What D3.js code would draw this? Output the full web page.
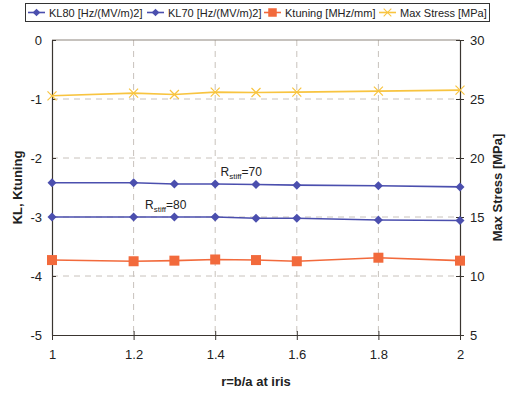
<!DOCTYPE html>
<html>
<head>
<meta charset="utf-8">
<script src="https://cdn.jsdelivr.net/npm/d3@7"></script>
<style>
  html, body { margin: 0; padding: 0; background: #fff; }
  svg { display: block; font-family: "Liberation Sans", Arial, sans-serif; }
</style>
</head>
<body>
<svg id="chart" width="508" height="394"></svg>
<script>
// Aperture ratio at the iris
const rValues = [1, 1.2, 1.3, 1.4, 1.5, 1.6, 1.8, 2];
// Loss factors for two stiffener radii [Hz/(MV/m)^2]
const kl80 = [-3.0, -3.0, -3.0, -3.0, -3.02, -3.02, -3.05, -3.06];
const kl70 = [-2.42, -2.42, -2.44, -2.44, -2.45, -2.46, -2.47, -2.49];
// Tuning sensitivity [MHz/mm]
const ktuning = [-3.73, -3.75, -3.74, -3.72, -3.73, -3.75, -3.69, -3.74];
// Peak stress [MPa]
const maxStress = [25.27, 25.5, 25.38, 25.58, 25.55, 25.58, 25.67, 25.75];

const xTicks = [1, 1.2, 1.4, 1.6, 1.8, 2];
const leftTicks = [0, -1, -2, -3, -4, -5];
const rightTicks = [30, 25, 20, 15, 10, 5];

const seriesNames = ["KL80 [Hz/(MV/m)2]", "KL70 [Hz/(MV/m)2]", "Ktuning [MHz/mm]", "Max Stress [MPa]"];

const svg = d3.select("#chart");
const L = 52, R = 460, T = 40, B = 335;

const x = d3.scaleLinear().domain([1, 2]).range([L, R]);
const yL = d3.scaleLinear().domain([-5, 0]).range([B, T]);
const yR = d3.scaleLinear().domain([5, 30]).range([B, T]);

const gridColor = "#c8c2bc";
const axisColor = "#3a3530";
const plain = d => String(d);

// Dashed grid
const grid = svg.append("g");
grid.selectAll("line.v").data(xTicks.slice(1, -1)).join("line")
  .attr("x1", d => x(d)).attr("x2", d => x(d))
  .attr("y1", T).attr("y2", B)
  .attr("stroke", gridColor).attr("stroke-width", 1).attr("stroke-dasharray", "6,5");
grid.selectAll("line.h").data(leftTicks.slice(1, -1)).join("line")
  .attr("x1", L).attr("x2", R)
  .attr("y1", d => yL(d)).attr("y2", d => yL(d))
  .attr("stroke", gridColor).attr("stroke-width", 1).attr("stroke-dasharray", "6,5");
// Top frame edge
svg.append("line").attr("x1", L).attr("x2", R).attr("y1", T).attr("y2", T)
  .attr("stroke", "#8d857d").attr("stroke-width", 1);

// Axes
function styleAxis(g) {
  g.select(".domain").attr("stroke", axisColor).attr("stroke-width", 1.2);
  g.selectAll(".tick line").attr("stroke", axisColor);
  g.selectAll(".tick text").attr("fill", "#222").style("font-size", "13px")
    .style("font-family", "'Liberation Sans', Arial, sans-serif");
}
const xAxis = svg.append("g").attr("transform", `translate(0,${B})`)
  .call(d3.axisBottom(x).tickValues(xTicks).tickFormat(plain).tickSize(5).tickSizeOuter(0).tickPadding(10));
xAxis.selectAll(".tick line").attr("y1", -4);
styleAxis(xAxis);

const leftAxis = svg.append("g").attr("transform", `translate(${L},0)`)
  .call(d3.axisLeft(yL).tickValues(leftTicks).tickFormat(plain).tickSize(4).tickSizeOuter(0).tickPadding(6));
leftAxis.selectAll(".tick line").attr("x2", 4);
styleAxis(leftAxis);

const rightAxis = svg.append("g").attr("transform", `translate(${R},0)`)
  .call(d3.axisRight(yR).tickValues(rightTicks).tickFormat(plain).tickSize(4).tickSizeOuter(0).tickPadding(6));
rightAxis.selectAll(".tick line").attr("x2", 4).attr("x1", -4);
styleAxis(rightAxis);

// Axis titles
svg.append("text").attr("x", 256).attr("y", 386).attr("text-anchor", "middle")
  .style("font-size", "13px").style("font-weight", "bold").attr("fill", "#222").text("r=b/a at iris");
svg.append("text").attr("transform", `translate(22,${(T + B) / 2}) rotate(-90)`).attr("text-anchor", "middle")
  .style("font-size", "13px").style("font-weight", "bold").attr("fill", "#222").text("KL, Ktuning");
svg.append("text").attr("transform", `translate(502,${(T + B) / 2}) rotate(-90)`).attr("text-anchor", "middle")
  .style("font-size", "13px").style("font-weight", "bold").attr("fill", "#222").text("Max Stress [MPa]");

// Series
const blue = "#4b4fae", orange = "#f26a3c", yellow = "#f8c440";
const series = [
  { name: seriesNames[0], values: kl80, y: yL, color: blue, marker: "diamond" },
  { name: seriesNames[1], values: kl70, y: yL, color: blue, marker: "diamond" },
  { name: seriesNames[2], values: ktuning, y: yL, color: orange, marker: "square" },
  { name: seriesNames[3], values: maxStress, y: yR, color: yellow, marker: "cross" }
];

function drawMarker(g, type, color) {
  if (type === "diamond") {
    g.append("path").attr("d", "M0,-4.5L4.5,0L0,4.5L-4.5,0Z").attr("fill", color);
  } else if (type === "square") {
    g.append("rect").attr("x", -5).attr("y", -5).attr("width", 10).attr("height", 10).attr("fill", color);
  } else {
    g.append("path").attr("d", "M-4.5,-4.5L4.5,4.5M-4.5,4.5L4.5,-4.5").attr("stroke", color).attr("stroke-width", 1.2).attr("fill", "none");
  }
}

const plot = svg.append("g");
series.forEach(s => {
  const line = d3.line().x((d, i) => x(rValues[i])).y(d => s.y(d));
  plot.append("path").datum(s.values).attr("d", line)
    .attr("fill", "none").attr("stroke", s.color).attr("stroke-width", 1.6);
  s.values.forEach((v, i) => {
    const g = plot.append("g").attr("transform", `translate(${x(rValues[i])},${s.y(v)})`);
    drawMarker(g, s.marker, s.color);
  });
});

// Curve annotations
function annot(xv, yv, val) {
  const t = svg.append("text").attr("x", x(xv)).attr("y", yL(yv)).attr("fill", "#222").style("font-size", "12px");
  t.append("tspan").text("R");
  t.append("tspan").attr("dy", 3).style("font-size", "8px").text("stiff");
  t.append("tspan").attr("dy", -3).text("=" + val);
}
annot(1.413, -2.3, 70);
annot(1.228, -2.86, 80);

// Legend
const legend = svg.append("g");
legend.append("rect").attr("x", 25.5).attr("y", 3.5).attr("width", 464).attr("height", 18)
  .attr("fill", "#fff").attr("stroke", "#333").attr("stroke-width", 1);
const legendX = [28, 147, 264, 379];
series.forEach((s, i) => {
  const g = legend.append("g").attr("transform", `translate(${legendX[i]},12.5)`);
  g.append("line").attr("x1", 0).attr("x2", 17).attr("stroke", s.color).attr("stroke-width", 1.6);
  const m = g.append("g").attr("transform", "translate(8.5,0) scale(0.85)");
  drawMarker(m, s.marker, s.color);
  g.append("text").attr("x", 21).attr("y", 4).style("font-size", "11px").attr("fill", "#222").text(s.name);
});
</script>
</body>
</html>
